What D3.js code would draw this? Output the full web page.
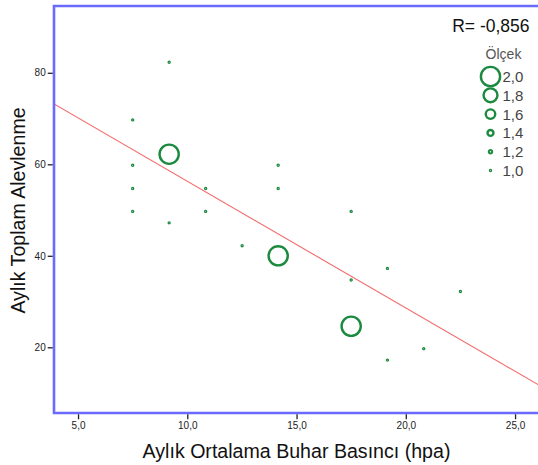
<!DOCTYPE html>
<html>
<head>
<meta charset="utf-8">
<script src="https://cdn.jsdelivr.net/npm/d3@7"></script>
<style>
  html, body { margin: 0; padding: 0; background: #fff; }
  svg { display: block; font-family: "Liberation Sans", Arial, sans-serif; }
</style>
</head>
<body>
<svg id="chart" width="538" height="465"></svg>
<script>
// Monthly mean vapour pressure (hpa) vs monthly total flare-ups
const vaporPressure = [9.17, 7.5, 9.17, 7.5, 7.5, 10.84, 7.5, 10.84, 9.17, 14.16,
                       14.16, 17.5, 12.51, 14.16, 19.16, 17.5, 22.5, 17.5, 20.82, 19.16];
const flareUps      = [82.3, 69.7, 62.2, 59.8, 54.7, 54.7, 49.7, 49.7, 47.2, 59.8,
                       54.7, 49.7, 42.2, 40.0, 37.25, 34.7, 32.2, 24.6, 19.7, 17.2];
const scaleValues   = [1, 1, 2, 1, 1, 1, 1, 1, 1, 1,
                       1, 1, 1, 2, 1, 1, 1, 2, 1, 1];

const xTicks = [5, 10, 15, 20, 25];
const yTicks = [20, 40, 60, 80];
const legendValues = [2.0, 1.8, 1.6, 1.4, 1.2, 1.0];

// Fit line: flareUps = intercept + slope * vaporPressure
const fitIntercept = 84.0;
const fitSlope = -2.77;
const rLabel = "R= -0,856";

const xTitle = "Aylık Ortalama Buhar Basıncı (hpa)";
const yTitle = "Aylık Toplam Alevlenme";
const legendTitle = "Ölçek";

const svg = d3.select("#chart");
const frame = { left: 54, top: 6, right: 538, bottom: 413 };

const x = d3.scaleLinear().domain([3.9, 26.05]).range([frame.left, frame.right]);
const y = d3.scaleLinear().domain([5.64, 94.6]).range([frame.bottom, frame.top]);
const rOuter = d3.scalePow().exponent(2.67).domain([0, 2]).range([0, 10.8]);

const green = "#1b8a3f";
const comma = d => d3.format(".1f")(d).replace(".", ",");

function markerAttrs(sel, s) {
  const ro = rOuter(s);
  const sw = Math.min(2.4, ro * 0.75);
  sel.attr("r", Math.max(0.4, ro - sw / 2))
     .attr("fill", "none")
     .attr("stroke", green)
     .attr("stroke-width", sw);
}

// clip region for plot contents
svg.append("clipPath").attr("id", "plotClip")
  .append("rect")
  .attr("x", frame.left).attr("y", frame.top)
  .attr("width", frame.right - frame.left).attr("height", frame.bottom - frame.top);

const plot = svg.append("g").attr("clip-path", "url(#plotClip)");

// regression line
const xd = x.domain();
plot.append("line")
  .attr("x1", x(xd[0])).attr("y1", y(fitIntercept + fitSlope * xd[0]))
  .attr("x2", x(xd[1])).attr("y2", y(fitIntercept + fitSlope * xd[1]))
  .attr("stroke", "#f26a6a")
  .attr("stroke-width", 1.1);

// points
plot.selectAll("circle.pt")
  .data(d3.range(vaporPressure.length))
  .join("circle")
  .attr("class", "pt")
  .attr("cx", i => x(vaporPressure[i]))
  .attr("cy", i => y(flareUps[i]))
  .each(function (i) { markerAttrs(d3.select(this), scaleValues[i]); });

// frame (left, top, bottom)
const frameColor = "#6a6aff";
svg.append("path")
  .attr("d", `M${frame.right},${frame.top}H${frame.left}V${frame.bottom}H${frame.right}`)
  .attr("fill", "none")
  .attr("stroke", frameColor)
  .attr("stroke-width", 2.6);

// axes
const yAxis = d3.axisLeft(y).tickValues(yTicks).tickSize(5).tickPadding(2).tickFormat(d3.format("d"));
const gy = svg.append("g").attr("transform", `translate(${frame.left - 1.3},0)`).call(yAxis);
gy.select(".domain").remove();
gy.selectAll(".tick line").attr("stroke", "#222").attr("stroke-width", 1.3);
gy.selectAll(".tick text").attr("font-size", 10).attr("fill", "#222")
  .attr("font-family", "'Liberation Sans', Arial, sans-serif");

const xAxis = d3.axisBottom(x).tickValues(xTicks).tickSize(5).tickPadding(3).tickFormat(comma);
const gx = svg.append("g").attr("transform", `translate(0,${frame.bottom + 1.3})`).call(xAxis);
gx.select(".domain").remove();
gx.selectAll(".tick line").attr("stroke", "#222").attr("stroke-width", 1.3);
gx.selectAll(".tick text").attr("font-size", 10).attr("fill", "#222")
  .attr("font-family", "'Liberation Sans', Arial, sans-serif");

// axis titles
svg.append("text")
  .attr("x", 296.5).attr("y", 458)
  .attr("text-anchor", "middle")
  .attr("font-size", 19.6)
  .attr("fill", "#111")
  .text(xTitle);

svg.append("text")
  .attr("transform", "translate(25,210.5) rotate(-90)")
  .attr("text-anchor", "middle")
  .attr("font-size", 19.6)
  .attr("fill", "#111")
  .text(yTitle);

// correlation label
svg.append("text")
  .attr("x", 529.5).attr("y", 31.5)
  .attr("text-anchor", "end")
  .attr("font-size", 17.5)
  .attr("fill", "#111")
  .text(rLabel);

// size legend
svg.append("text")
  .attr("x", 503.5).attr("y", 59)
  .attr("text-anchor", "middle")
  .attr("font-size", 14)
  .attr("fill", "#555")
  .text(legendTitle);

const legend = svg.append("g");
const lg = legend.selectAll("g")
  .data(legendValues)
  .join("g")
  .attr("transform", (d, i) => `translate(490.5,${76.5 + i * 18.8})`);
lg.append("circle").each(function (d) { markerAttrs(d3.select(this), d); });
lg.append("text")
  .attr("x", 12).attr("y", 5.5)
  .attr("font-size", 15)
  .attr("fill", "#444")
  .text(d => comma(d));
</script>
</body>
</html>
